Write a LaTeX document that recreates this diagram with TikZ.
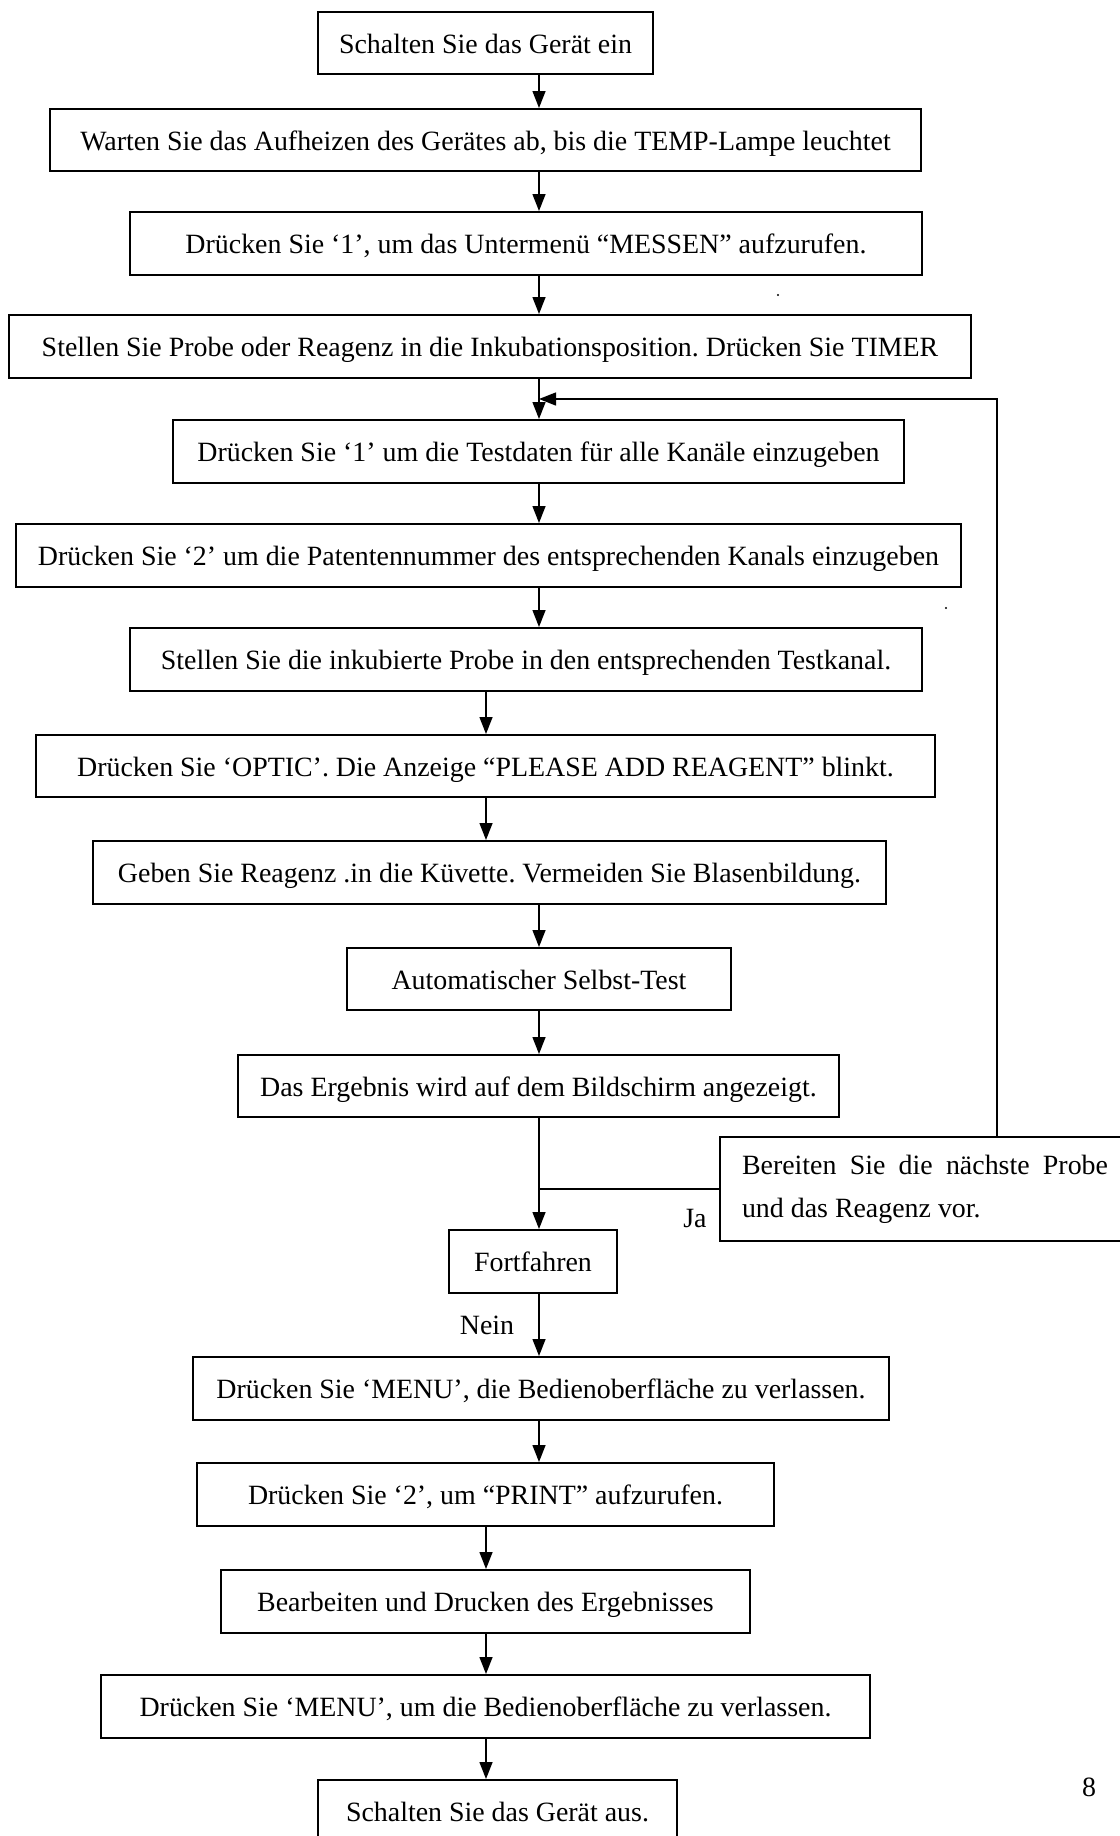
\documentclass[tikz,border=0pt]{standalone}
\usepackage{fontspec}
\setmainfont{Liberation Serif}
\usetikzlibrary{arrows.meta,calc}
\frenchspacing
\tikzset{
  box/.style={draw, line width=2pt, rectangle, inner sep=0pt, minimum height=63pt,
    text height=24pt, text depth=4pt,
    font=\fontsize{27.9}{43}\selectfont\frenchspacing},
  arr/.style={line width=1.4pt, -{Triangle[length=17pt,width=13pt]}},
  ln/.style={line width=1.4pt},
  lbl/.style={font=\fontsize{27.9}{33}\selectfont, inner sep=0pt}
}
\begin{document}
\begin{tikzpicture}[x=1pt,y=-1pt]
\useasboundingbox (0,0) rectangle (1119,1836);
% columns for connectors
\coordinate (colA) at (539,0);
\coordinate (colB) at (486,0);
\coordinate (loopx) at (997,0);
\coordinate (merge) at (539,399);

\node[box, minimum width=335pt, minimum height=62pt] (b1) at (485.5,43) {Schalten Sie das Gerät ein};
\node[box, minimum width=871pt, minimum height=62pt] (b2) at (485.5,140) {Warten Sie das Aufheizen des Gerätes ab, bis die TEMP-Lampe leuchtet};
\node[box, minimum width=792pt] (b3) at (526,243.5) {Drücken Sie ‘1’, um das Untermenü “MESSEN” aufzurufen.};
\node[box, minimum width=962pt] (b4) at (490,346.5) {Stellen Sie Probe oder Reagenz in die Inkubationsposition. Drücken Sie TIMER};
\node[box, minimum width=731pt] (b5) at (538.5,451.5) {Drücken Sie ‘1’ um die Testdaten für alle Kanäle einzugeben};
\node[box, minimum width=945pt] (b6) at (488.5,555.5) {Drücken Sie ‘2’ um die Patentennummer des entsprechenden Kanals einzugeben};
\node[box, minimum width=792pt] (b7) at (526,659.5) {Stellen Sie die inkubierte Probe in den entsprechenden Testkanal.};
\node[box, minimum width=899pt, minimum height=62pt] (b8) at (485.5,766) {Drücken Sie ‘OPTIC’. Die Anzeige “PLEASE ADD REAGENT” blinkt.};
\node[box, minimum width=793pt] (b9) at (489.5,872.5) {Geben Sie Reagenz .in die Küvette. Vermeiden Sie Blasenbildung.};
\node[box, minimum width=384pt, minimum height=62pt] (b10) at (539,979) {Automatischer Selbst-Test};
\node[box, minimum width=601pt, minimum height=62pt] (b11) at (538.5,1086) {Das Ergebnis wird auf dem Bildschirm angezeigt.};
\node[box, anchor=west, minimum height=104pt, inner xsep=22pt, align=left, text height=, text depth=] (b12) at (719,1189)
  {\makebox[366pt][s]{Bereiten Sie die nächste Probe}\\und das Reagenz vor.};
\node[box, minimum width=168pt] (b13) at (533,1261.5) {Fortfahren};
\node[box, minimum width=696pt] (b14) at (541,1388.5) {Drücken Sie ‘MENU’, die Bedienoberfläche zu verlassen.};
\node[box, minimum width=577pt] (b15) at (485.5,1494.5) {Drücken Sie ‘2’, um “PRINT” aufzurufen.};
\node[box, minimum width=529pt] (b16) at (485.5,1601.5) {Bearbeiten und Drucken des Ergebnisses};
\node[box, minimum width=769pt] (b17) at (485.5,1706.5) {Drücken Sie ‘MENU’, um die Bedienoberfläche zu verlassen.};
\node[box, minimum width=359pt] (b18) at (497.5,1811.5) {Schalten Sie das Gerät aus.};

% labels
\node[lbl] (ja) at (695,1218) {Ja};
\node[lbl] (nein) at (487,1325) {Nein};
\node[lbl] (page) at (1089,1787) {8};

% connectors
\draw[arr] (b1.south -| colA) -- (b2.north -| colA);
\draw[arr] (b2.south -| colA) -- (b3.north -| colA);
\draw[arr] (b3.south -| colA) -- (b4.north -| colA);
\draw[arr] (b4.south -| colA) -- (b5.north -| colA);
\draw[arr] (b5.south -| colA) -- (b6.north -| colA);
\draw[arr] (b6.south -| colA) -- (b7.north -| colA);
\draw[arr] (b7.south -| colB) -- (b8.north -| colB);
\draw[arr] (b8.south -| colB) -- (b9.north -| colB);
\draw[arr] (b9.south -| colA) -- (b10.north -| colA);
\draw[arr] (b10.south -| colA) -- (b11.north -| colA);
\draw[arr] (b11.south -| colA) -- (b13.north -| colA);
\draw[arr] (b13.south -| colA) -- (b14.north -| colA);
\draw[arr] (b14.south -| colA) -- (b15.north -| colA);
\draw[arr] (b15.south -| colB) -- (b16.north -| colB);
\draw[arr] (b16.south -| colB) -- (b17.north -| colB);
\draw[arr] (b17.south -| colB) -- (b18.north -| colB);
% loop back
\draw[arr] (b12.north -| loopx) |- (merge);
\draw[ln] (b12.west) -- (b12.west -| colA);

% stray marks
\fill (778,295) circle (1.1pt);
\fill (946,608) circle (1.1pt);
\end{tikzpicture}
\end{document}
